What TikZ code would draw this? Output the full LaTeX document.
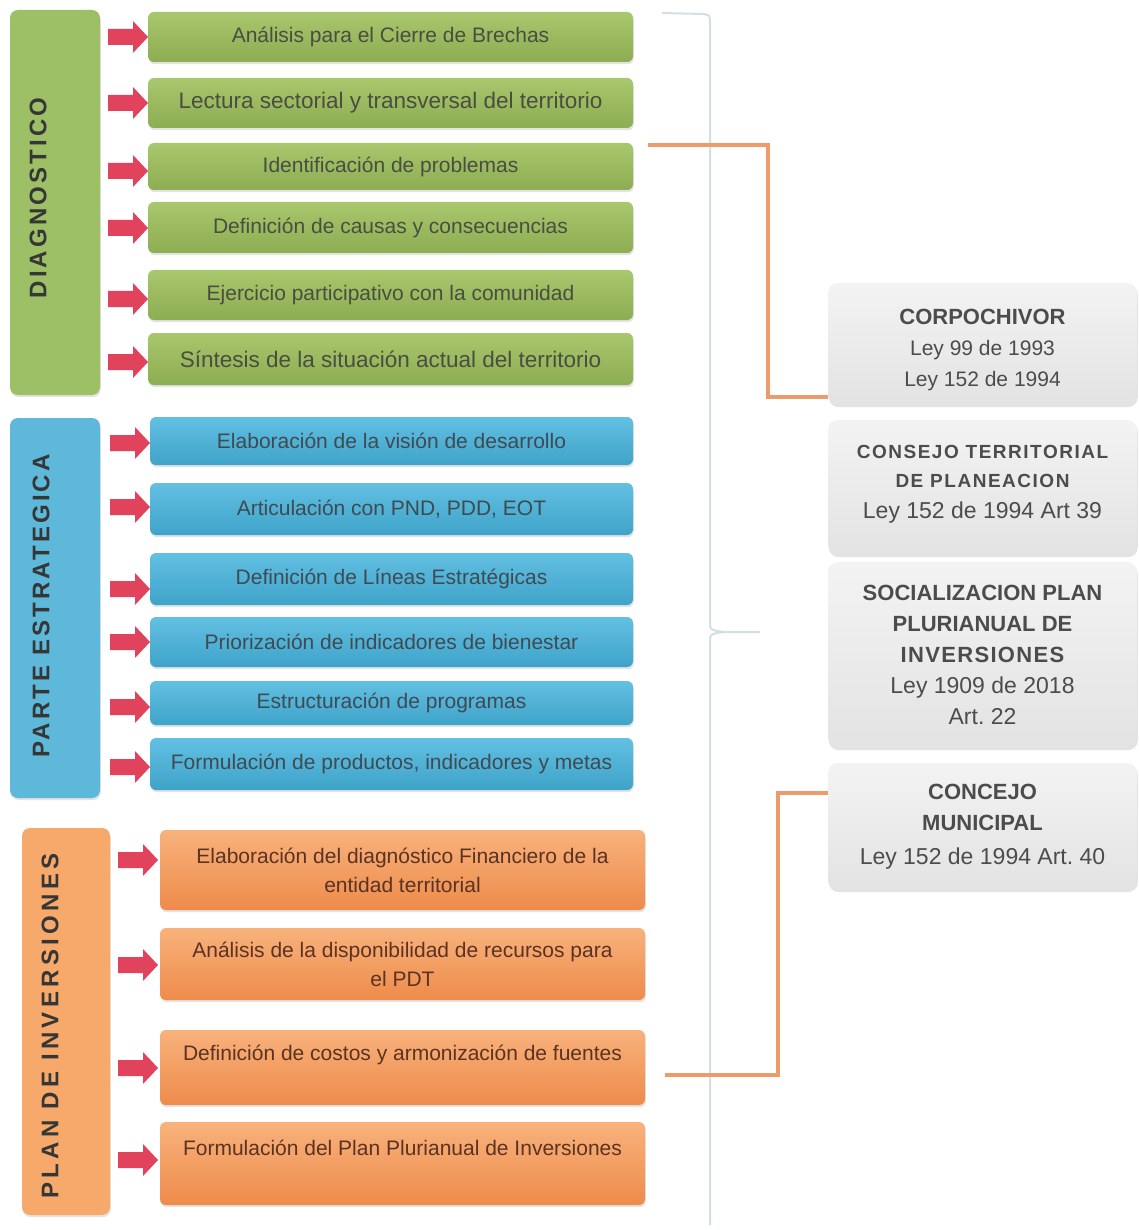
\documentclass[tikz,border=0pt]{standalone}
\usepackage{fontspec}
\setmainfont{Liberation Sans}
\usetikzlibrary{shadows,calc}
\definecolor{gtop}{HTML}{A9C76C}
\definecolor{gbot}{HTML}{8DAD52}
\definecolor{glab}{HTML}{9DC067}
\definecolor{btop}{HTML}{62C0E2}
\definecolor{bbot}{HTML}{3FA3C9}
\definecolor{blab}{HTML}{5DB8DA}
\definecolor{otop}{HTML}{F8B27C}
\definecolor{obot}{HTML}{EE8B4B}
\definecolor{olab}{HTML}{F6A96A}
\definecolor{ctop}{HTML}{F3F3F3}
\definecolor{cbot}{HTML}{E3E3E3}
\definecolor{arrred}{HTML}{E1435C}
\definecolor{connor}{HTML}{EE9B6B}
\definecolor{bracec}{HTML}{D2DFE3}
\definecolor{gtext}{HTML}{4A4D42}
\definecolor{btext}{HTML}{3F4A52}
\definecolor{otext}{HTML}{5A3322}
\definecolor{ctext}{HTML}{4C4C4C}
\definecolor{labtext}{HTML}{363636}
\tikzset{
  shad/.style={drop shadow={opacity=0.22,shadow xshift=0.8pt,shadow yshift=-2.2pt}},
  box/.style={shad, rounded corners=6pt, inner sep=4pt, align=center,
    font=\fontsize{21}{29}\selectfont},
  gbox/.style={box, minimum width=485pt, top color=gtop, bottom color=gbot, text=gtext},
  bbox/.style={box, minimum width=483pt, top color=btop, bottom color=bbot, text=btext},
  obox/.style={box, minimum width=485pt, top color=otop, bottom color=obot, text=otext},
  lab/.style={shad, rounded corners=8pt, minimum width=90pt},
  labtxt/.style={rotate=90, text=labtext, inner sep=0pt,
    font=\fontsize{24}{24}\bfseries\addfontfeature{LetterSpace=13}},
  cbox/.style={shad, rounded corners=10pt, minimum width=309pt, top color=ctop, bottom color=cbot,
    align=center, text=ctext, inner sep=2pt, font=\fontsize{22}{31}\selectfont},
  blockarr/.pic={\fill[arrred] (0,0) -- (-15,-16) -- (-15,-8) -- (-40,-8) -- (-40,8) -- (-15,8) -- (-15,16) -- cycle;},
  conn/.style={draw=connor, line width=4.5pt},
  bracel/.style={draw=bracec, line width=2pt},
}
\begin{document}
\begin{tikzpicture}[x=1pt,y=-1pt]
\useasboundingbox (0,0) rectangle (1139,1230);
\fill[white] (0,0) rectangle (1139,1230);

% brace
\draw[bracel] (662,13) -- (703,14) .. controls (710,15) .. (710,24) -- (710,622)
  .. controls (710,630) .. (724,632) -- (760,632);
\draw[bracel] (724,632) .. controls (710,634) .. (710,642) -- (710,1225);

% label boxes
\node[lab, fill=glab, minimum height=385pt] (dg) at (55,202.5) {};
\node[labtxt] (dgt) at (38,198) {DIAGNOSTICO};
\node[lab, fill=blab, minimum height=380pt] (pe) at (55,608) {};
\node[labtxt] (pet) at (41,606) {PARTE ESTRATEGICA};
\node[lab, fill=olab, minimum width=88pt, minimum height=387pt] (pi) at (66,1021.5) {};
\node[labtxt, font=\fontsize{24}{24}\bfseries\addfontfeature{LetterSpace=18}] (pit) at (50,1026) {PLAN DE INVERSIONES};

% green boxes
\node[gbox, minimum height=50pt] (g1) at (390.5,37) {Análisis para el Cierre de Brechas};
\node[gbox, minimum height=50pt, font=\fontsize{22.5}{29}\selectfont] (g2) at (390.5,103) {Lectura sectorial y transversal del territorio};
\node[gbox, minimum height=47pt] (g3) at (390.5,166.5) {Identificación de problemas};
\node[gbox, minimum height=51pt] (g4) at (390.5,227.5) {Definición de causas y consecuencias};
\node[gbox, minimum height=50pt] (g5) at (390.5,295) {Ejercicio participativo con la comunidad};
\node[gbox, minimum height=52pt, font=\fontsize{22.5}{29}\selectfont] (g6) at (390.5,359) {Síntesis de la situación actual del territorio};

% blue boxes
\node[bbox, minimum height=48pt] (b1) at (391.5,441) {Elaboración de la visión de desarrollo};
\node[bbox, minimum height=52pt] (b2) at (391.5,509) {Articulación con PND, PDD, EOT};
\node[bbox, minimum height=52pt] (b3) at (391.5,579) {Definición de Líneas Estratégicas};
\node[bbox, minimum height=50pt] (b4) at (391.5,642) {Priorización de indicadores de bienestar};
\node[bbox, minimum height=44pt] (b5) at (391.5,703) {Estructuración de programas};
\node[bbox, minimum height=52pt] (b6) at (391.5,764) {Formulación de productos, indicadores y metas};

% orange boxes
\node[obox, minimum height=80pt] (o1) at (402.5,870) {Elaboración del diagnóstico Financiero de la\\entidad territorial};
\node[obox, minimum height=72pt] (o2) at (402.5,964) {Análisis de la disponibilidad de recursos para\\el PDT};
\node[obox, minimum height=75pt] (o3) at (402.5,1067.5) {};
\node[text=otext, font=\fontsize{21}{29}\selectfont] (o3t) at ($(o3.north)+(0,25)$) {Definición de costos y armonización de fuentes};
\node[obox, minimum height=83pt] (o4) at (402.5,1163.5) {};
\node[text=otext, font=\fontsize{21}{29}\selectfont] (o4t) at ($(o4.north)+(0,26)$) {Formulación del Plan Plurianual de Inversiones};

% arrows
\pic at (148,37) {blockarr};
\pic at (148,103) {blockarr};
\pic at (148,171) {blockarr};
\pic at (148,228) {blockarr};
\pic at (148,299) {blockarr};
\pic at (148,362) {blockarr};
\pic at (150,443) {blockarr};
\pic at (150,507) {blockarr};
\pic at (150,589) {blockarr};
\pic at (150,642) {blockarr};
\pic at (150,707) {blockarr};
\pic at (150,767) {blockarr};
\pic at (158,860) {blockarr};
\pic at (158,965) {blockarr};
\pic at (158,1068) {blockarr};
\pic at (158,1160) {blockarr};

% right boxes
\node[cbox, minimum height=122pt] (c1) at (982.5,344)
  {\rule{0pt}{28pt}\textbf{CORPOCHIVOR}\\{\fontsize{21}{31}\selectfont Ley 99 de 1993}\\{\fontsize{21}{31}\selectfont Ley 152 de 1994}};
\node[cbox, minimum height=135pt, text depth=12pt] (c2) at (982.5,487.5)
  {{\fontsize{19}{29}\bfseries\addfontfeature{LetterSpace=8}CONSEJO TERRITORIAL}\\[-2pt]{\fontsize{19}{29}\bfseries\addfontfeature{LetterSpace=8}DE PLANEACION}\\{\fontsize{23}{31}\selectfont Ley 152 de 1994 Art 39}};
\node[cbox, minimum height=186pt] (c3) at (982.5,655)
  {\textbf{SOCIALIZACION PLAN}\\\textbf{PLURIANUAL DE}\\{\bfseries\addfontfeature{LetterSpace=6}INVERSIONES}\\{\fontsize{23}{31}\selectfont Ley 1909 de 2018}\\{\fontsize{23}{31}\selectfont Art.\ 22}};
\node[cbox, minimum height=127pt] (c4) at (982.5,826.5)
  {\textbf{CONCEJO}\\\textbf{MUNICIPAL}\\[3pt]{\fontsize{23}{31}\selectfont Ley 152 de 1994 Art.\ 40}};

% connectors
\draw[conn] ([xshift=15pt,yshift=-2pt]g3.north east) -- ++(120,0) |- ([yshift=8pt]c1.south west);
\draw[conn] ([xshift=20pt,yshift=-7.5pt]o3.east) -- ++(113,0) |- ([yshift=-30pt]c4.north west);
\end{tikzpicture}
\end{document}
